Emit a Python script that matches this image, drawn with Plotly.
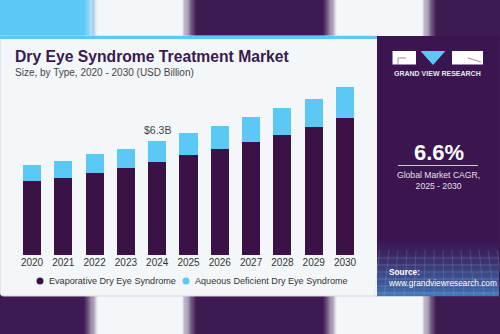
import plotly.graph_objects as go

years = ["2020", "2021", "2022", "2023", "2024", "2025", "2026", "2027", "2028", "2029", "2030"]
evaporative = [4.08, 4.28, 4.56, 4.82, 5.16, 5.53, 5.85, 6.27, 6.66, 7.11, 7.61]
aqueous = [0.91, 0.95, 1.01, 1.08, 1.14, 1.21, 1.30, 1.37, 1.46, 1.55, 1.68]
series_names = ["Evaporative Dry Eye Syndrome", "Aqueous Deficient Dry Eye Syndrome"]
label_year = "2024"
label_text = "$6.3B"

W, H = 500, 334
DARK = "#3a1246"
BLUE = "#5bc8f5"
PANEL = "#3a1550"
BAND = "#3e1a52"
CARD = "#f3f7fa"
FONT = "Liberation Sans, Arial, sans-serif"


def px(x):
    return x / W


def py(y):
    return 1 - y / H


def rect(x0, y0, x1, y1, color, layer="below", line=None, opacity=1):
    return dict(type="rect", xref="paper", yref="paper", x0=px(x0), x1=px(x1),
                y0=py(y1), y1=py(y0), fillcolor=color, opacity=opacity,
                line=line or dict(width=0), layer=layer)


def hexrgb(h):
    h = h.lstrip("#")
    return tuple(int(h[i:i + 2], 16) for i in (0, 2, 4))


def mix(c1, c2, t):
    a, b = hexrgb(c1), hexrgb(c2)
    return "rgb(%d,%d,%d)" % tuple(round(a[i] + (b[i] - a[i]) * t) for i in range(3))


shapes = []
shapes.append(rect(0, 0, W, H, BAND))
shapes.append(rect(0, 0, 88, 36, BLUE))


def white_strip(xa, xb, y0, y1, fade, left_col, right_col):
    n = 12
    for i in range(n):
        t = (i + 0.5) / n
        xs = xa - fade + i * fade / n
        shapes.append(rect(xs, y0, xs + fade / n + 0.3, y1, mix(left_col, "#f4f7fa", t)))
        xe = xb + i * fade / n
        shapes.append(rect(xe, y0, xe + fade / n + 0.3, y1, mix("#f4f7fa", right_col, t)))
    shapes.append(rect(xa, y0, xb, y1, "#f4f7fa"))


white_strip(98, 182, 0, 36, 14, BLUE, BAND)
white_strip(337, 422, 0, 36, 14, BAND, BAND)
white_strip(98, 182, 296, H, 14, BAND, BAND)
white_strip(337, 422, 296, H, 14, BAND, BAND)

# card
shapes.append(dict(type="path", xref="paper", yref="paper",
                   path="M %f %f L %f %f L %f %f L %f %f Q %f %f %f %f Z" % (
                       px(0), py(36), px(378), py(36), px(378), py(296),
                       px(4), py(296), px(0), py(296), px(0), py(292)),
                   fillcolor=CARD, line=dict(color="#d4d8dc", width=1), layer="below"))
shapes.append(rect(0, 36, 378, 39, BLUE))
# right panel
shapes.append(rect(377, 36, 499, 296, PANEL))
n = 20
for i in range(n):
    t = (i + 0.5) / n
    y0 = 238 + i * (296 - 238) / n
    shapes.append(rect(377, y0, 499, y0 + (296 - 238) / n + 0.3, mix(PANEL, "#4377b8", t ** 1.3)))
for k in range(6):
    yy = 258 + k * 7
    shapes.append(dict(type="line", xref="paper", yref="paper", x0=px(377), x1=px(499),
                       y0=py(yy), y1=py(yy), line=dict(color="rgba(150,190,235,0.25)", width=1),
                       layer="below"))
for k in range(14):
    xx = 380 + k * 9
    shapes.append(dict(type="line", xref="paper", yref="paper", x0=px(xx), x1=px(xx - 6 + k),
                       y0=py(250), y1=py(296), line=dict(color="rgba(150,190,235,0.2)", width=1),
                       layer="below"))
# logo
shapes.append(rect(392.5, 51, 416, 64.5, "white", layer="above"))
shapes.append(rect(452, 51, 483, 64.5, "white", layer="above"))
shapes.append(dict(type="path", xref="paper", yref="paper",
                   path="M %f %f L %f %f L %f %f Z" % (px(420.5), py(51), px(445.5), py(51), px(433), py(65)),
                   fillcolor=BLUE, line=dict(width=0), layer="above"))
shapes.append(dict(type="line", xref="paper", yref="paper", x0=px(398), x1=px(406), y0=py(58), y1=py(58),
                   line=dict(color="#777", width=0.8), layer="above"))
shapes.append(dict(type="line", xref="paper", yref="paper", x0=px(398), x1=px(398), y0=py(58), y1=py(64.5),
                   line=dict(color="#777", width=0.8), layer="above"))
shapes.append(dict(type="line", xref="paper", yref="paper", x0=px(468), x1=px(481), y0=py(58), y1=py(62),
                   line=dict(color="#777", width=0.8), layer="above"))
# CAGR divider
shapes.append(dict(type="line", xref="paper", yref="paper", x0=px(398), x1=px(478), y0=py(165.5), y1=py(165.5),
                   line=dict(color="#cfc8d8", width=1), layer="above"))
# legend dots
shapes.append(dict(type="circle", xref="paper", yref="paper", x0=px(36.5), x1=px(43.5), y0=py(284.5), y1=py(277.5),
                   fillcolor=DARK, line=dict(width=0), layer="above"))
shapes.append(dict(type="circle", xref="paper", yref="paper", x0=px(182.5), x1=px(189.5), y0=py(284.5), y1=py(277.5),
                   fillcolor=BLUE, line=dict(width=0), layer="above"))

fig = go.Figure()
fig.add_trace(go.Bar(x=years, y=evaporative, name=series_names[0], marker=dict(color=DARK, line=dict(width=0))))
fig.add_trace(go.Bar(x=years, y=aqueous, name=series_names[1], marker=dict(color=BLUE, line=dict(width=0))))

idx = years.index(label_year)
annotations = [
    dict(x=idx, y=evaporative[idx] + aqueous[idx], xref="x", yref="y", text=label_text,
         showarrow=False, yanchor="bottom", yshift=3, font=dict(size=10.5, color="#444", family=FONT)),
    dict(x=px(13), y=py(57), xref="paper", yref="paper", xanchor="left", yanchor="middle", showarrow=False,
         text="<b>Dry Eye Syndrome Treatment Market</b>", font=dict(size=15.7, color="#3a1a50", family=FONT)),
    dict(x=px(13), y=py(72.5), xref="paper", yref="paper", xanchor="left", yanchor="middle", showarrow=False,
         text="Size, by Type, 2020 - 2030 (USD Billion)", font=dict(size=10, color="#444", family=FONT)),
    dict(x=px(47), y=py(281), xref="paper", yref="paper", xanchor="left", yanchor="middle", showarrow=False,
         text=series_names[0], font=dict(size=9.1, color="#333", family=FONT)),
    dict(x=px(193), y=py(281), xref="paper", yref="paper", xanchor="left", yanchor="middle", showarrow=False,
         text=series_names[1], font=dict(size=9.1, color="#333", family=FONT)),
    dict(x=px(437.5), y=py(74), xref="paper", yref="paper", xanchor="center", yanchor="middle", showarrow=False,
         text="<b>GRAND VIEW RESEARCH</b>", font=dict(size=7, color="#e8e4ee", family=FONT)),
    dict(x=px(438.5), y=py(152), xref="paper", yref="paper", xanchor="center", yanchor="middle", showarrow=False,
         text="<b>6.6%</b>", font=dict(size=22, color="white", family=FONT)),
    dict(x=px(438.5), y=py(180), xref="paper", yref="paper", xanchor="center", yanchor="middle", showarrow=False,
         text="Global Market CAGR,<br>2025 - 2030", font=dict(size=8.6, color="#e4e0ea", family=FONT)),
    dict(x=px(386), y=py(277), xref="paper", yref="paper", xanchor="left", yanchor="middle", showarrow=False,
         align="left", text="<b>Source:</b><br>www.grandviewresearch.com",
         font=dict(size=8.3, color="white", family=FONT)),
]

fig.update_layout(
    width=W, height=H, margin=dict(l=0, r=0, t=0, b=0, autoexpand=False),
    paper_bgcolor=BAND, plot_bgcolor="rgba(0,0,0,0)",
    barmode="stack", bargap=0.42, showlegend=False,
    shapes=shapes, annotations=annotations,
    xaxis=dict(domain=[px(16.35), px(360.65)], type="category", range=[-0.5, 10.5], automargin=False,
               showgrid=False, showline=False, zeroline=False, ticks="",
               tickfont=dict(size=10, color="#333", family=FONT)),
    yaxis=dict(domain=[py(255), py(74.5)], range=[0, 10], visible=False, showgrid=False, automargin=False),
)

fig.write_html("out.html")
